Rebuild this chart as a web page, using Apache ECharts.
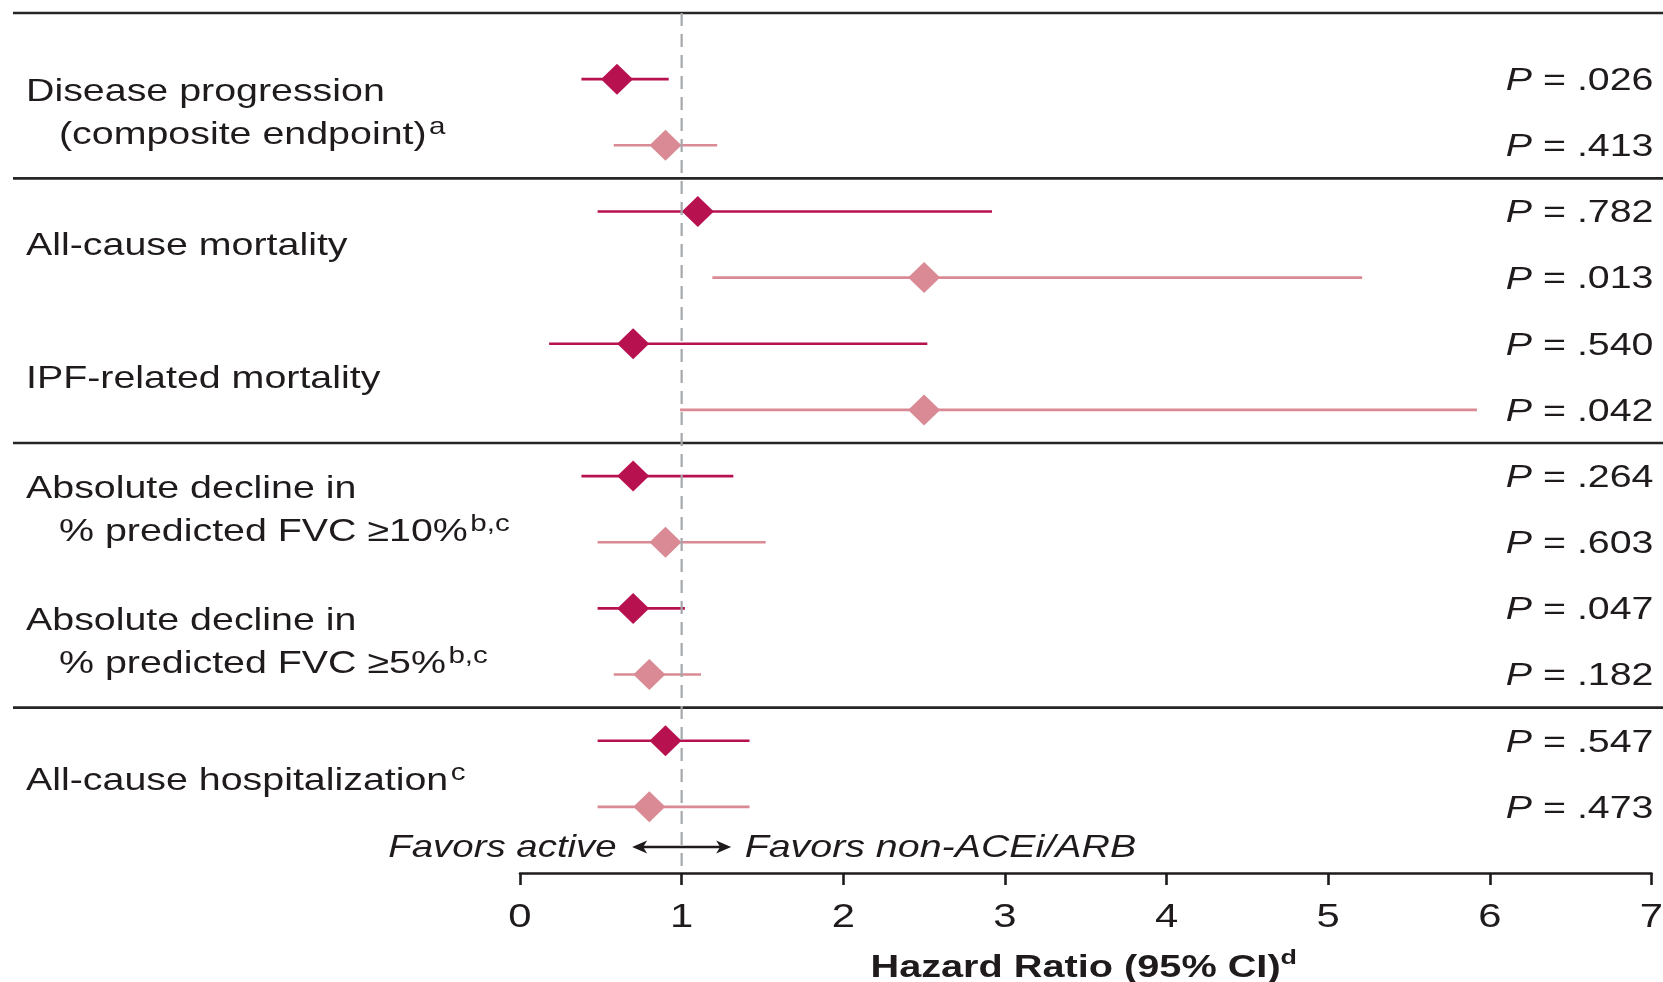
<!DOCTYPE html>
<html>
<head>
<meta charset="utf-8">
<style>
  html, body { margin: 0; padding: 0; background: #ffffff; }
  #chart { width: 1663px; height: 982px; }
</style>
<script src="https://cdn.jsdelivr.net/npm/echarts@6/dist/echarts.min.js"></script>
</head>
<body>
<div id="chart"></div>
<script>
// Outcome labels; each outcome spans two rows (first arm, second arm)
const outcomeLines = [
  ['Disease progression', '(composite endpoint){sup|a}'],
  ['All-cause mortality'],
  ['IPF-related mortality'],
  ['Absolute decline in', '% predicted FVC \u226510%{sup|b,c}'],
  ['Absolute decline in', '% predicted FVC \u22655%{sup|b,c}'],
  ['All-cause hospitalization{sup|c}']
];
// vertical centre of each outcome label, in row units
const outcomeRows = [0.5, 2.5, 4.5, 6.5, 8.5, 10.58];

// First arm (dark): hazard ratio, 95% CI, P value
const hrA = [0.60, 1.10, 0.70, 0.70, 0.70, 0.90];
const loA = [0.38, 0.48, 0.18, 0.38, 0.48, 0.48];
const hiA = [0.92, 2.92, 2.52, 1.32, 1.02, 1.42];
const pA  = ['.026', '.782', '.540', '.264', '.047', '.547'];

// Second arm (light): hazard ratio, 95% CI, P value
const hrB = [0.90, 2.50, 2.50, 0.90, 0.80, 0.80];
const loB = [0.58, 1.19, 0.99, 0.48, 0.58, 0.48];
const hiB = [1.22, 5.21, 5.92, 1.52, 1.12, 1.42];
const pB  = ['.413', '.013', '.042', '.603', '.182', '.473'];

// Hazard ratio axis
const xTicks = [0, 1, 2, 3, 4, 5, 6, 7];
const tickLabels = ['0', '1', '2', '3', '4', '5', '6', '7'];
const refValue = 1;

// Horizontal rules between outcome groups (row units, -1 = top rule)
const dividerRows = [-1, 1.5, 5.5, 9.5];

const favorsLeft = 'Favors active';
const favorsRight = 'Favors non-ACEi/ARB';
const axisTitle = 'Hazard Ratio (95% CI){sup|d}';

// ---- styling ----
const INK = '#1f1b1c';
const DARK = '#b8114f';
const LIGHT = '#da8a94';
const FONT = '"Liberation Sans", Arial, Helvetica, sans-serif';
const SX = 1.23;           // horizontal stretch of the lettering
const ROW_FAVORS = 11.56;  // row position of the "Favors" annotation

// one entry per plotted row
const rows = [];
for (let i = 0; i < hrA.length; i++) {
  rows.push({ row: 2 * i, hr: hrA[i], lo: loA[i], hi: hiA[i], p: pA[i], arm: 0 });
  rows.push({ row: 2 * i + 1, hr: hrB[i], lo: loB[i], hi: hiB[i], p: pB[i], arm: 1 });
}

const supRich = {
  sup: { font: '24px ' + FONT, fill: INK, lineHeight: 14, verticalAlign: 'top', padding: [0, 0, 0, 2] }
};

const chart = echarts.init(document.getElementById('chart'), null, { renderer: 'canvas' });

const yAxisCommon = { type: 'value', min: -1, max: 12, inverse: true, show: false };

chart.setOption({
  animation: false,
  backgroundColor: '#ffffff',
  grid: [
    { left: 520, right: 11.5, top: 13, bottom: 109 },
    { left: 13, right: 0, top: 13, bottom: 109 }
  ],
  xAxis: [
    {
      gridIndex: 0, type: 'value', min: 0, max: 7, interval: 1,
      axisLine: { show: true, onZero: false, lineStyle: { color: INK, width: 2.6 } },
      axisTick: { show: true, length: 12, lineStyle: { color: INK, width: 2.6 } },
      axisLabel: { show: false },
      splitLine: { show: false }
    },
    { gridIndex: 1, type: 'value', min: 0, max: 1, show: false }
  ],
  yAxis: [
    Object.assign({ gridIndex: 0 }, yAxisCommon),
    Object.assign({ gridIndex: 1 }, yAxisCommon)
  ],
  series: [
    {
      // group rules spanning the full width
      name: 'dividers', type: 'custom', xAxisIndex: 1, yAxisIndex: 1, z: 1, silent: true,
      data: dividerRows.map(r => [0, r]),
      renderItem: function (params, api) {
        const a = api.coord([0, api.value(1)]);
        const b = api.coord([1, api.value(1)]);
        return {
          type: 'line',
          shape: { x1: a[0], y1: a[1], x2: b[0], y2: b[1] },
          style: { stroke: '#262626', lineWidth: 2.6 }
        };
      }
    },
    {
      // outcome names on the left
      name: 'outcomes', type: 'custom', xAxisIndex: 1, yAxisIndex: 1, z: 6, silent: true,
      data: outcomeRows.map((r, i) => [0, r, i]),
      renderItem: function (params, api) {
        const p = api.coord([0, api.value(1)]);
        const lines = outcomeLines[api.value(2)];
        const children = lines.map(function (txt, k) {
          const dy = lines.length === 1 ? 2 : (k === 0 ? -19.8 : 22.8);
          return {
            type: 'text',
            x: p[0] + (k === 0 ? 13 : 46),
            y: p[1] + dy,
            scaleX: SX,
            style: {
              text: txt, fill: INK, font: '32px ' + FONT,
              align: 'left', verticalAlign: 'middle', lineHeight: 40,
              rich: supRich
            }
          };
        });
        return { type: 'group', children: children };
      }
    },
    {
      // confidence interval whiskers
      name: 'ci', type: 'custom', xAxisIndex: 0, yAxisIndex: 0, z: 2, silent: true,
      data: rows.map(r => [r.lo, r.row, r.hi, r.arm]),
      renderItem: function (params, api) {
        const a = api.coord([api.value(0), api.value(1)]);
        const b = api.coord([api.value(2), api.value(1)]);
        return {
          type: 'line',
          shape: { x1: a[0], y1: a[1], x2: b[0], y2: b[1] },
          style: { stroke: api.value(3) === 0 ? DARK : LIGHT, lineWidth: 2.6 }
        };
      }
    },
    {
      name: 'first arm', type: 'scatter', xAxisIndex: 0, yAxisIndex: 0, z: 3, silent: true,
      symbol: 'diamond', symbolSize: [32, 31],
      itemStyle: { color: DARK, opacity: 1 },
      data: rows.filter(r => r.arm === 0).map(r => [r.hr, r.row])
    },
    {
      name: 'second arm', type: 'scatter', xAxisIndex: 0, yAxisIndex: 0, z: 3, silent: true,
      symbol: 'diamond', symbolSize: [32, 31],
      itemStyle: { color: LIGHT, opacity: 1 },
      data: rows.filter(r => r.arm === 1).map(r => [r.hr, r.row])
    },
    {
      // dashed line of no effect
      name: 'reference', type: 'custom', xAxisIndex: 0, yAxisIndex: 0, z: 4, silent: true,
      data: [[refValue, -1, 12]],
      renderItem: function (params, api) {
        const a = api.coord([api.value(0), api.value(1)]);
        const b = api.coord([api.value(0), api.value(2)]);
        return {
          type: 'line',
          shape: { x1: a[0], y1: a[1], x2: b[0], y2: b[1] },
          style: { stroke: '#a5a8ab', lineWidth: 2.2, lineDash: [13, 8] }
        };
      }
    },
    {
      // P values at the right margin
      name: 'pvalues', type: 'custom', xAxisIndex: 0, yAxisIndex: 0, z: 6, silent: true,
      data: rows.map((r, i) => [7, r.row, i]),
      renderItem: function (params, api) {
        const p = api.coord([api.value(0), api.value(1)]);
        return {
          type: 'text',
          x: p[0] + 2, y: p[1] + 2,
          scaleX: SX,
          style: {
            text: '{i|P} = ' + rows[api.value(2)].p,
            fill: INK, font: '32px ' + FONT,
            align: 'right', verticalAlign: 'middle',
            rich: { i: { font: 'italic 32px ' + FONT, fill: INK } }
          }
        };
      }
    },
    {
      // tick labels of the hazard ratio axis
      name: 'ticks', type: 'custom', xAxisIndex: 0, yAxisIndex: 0, z: 6, silent: true,
      data: xTicks.map((v, i) => [v, 12, i]),
      renderItem: function (params, api) {
        const p = api.coord([api.value(0), api.value(1)]);
        return {
          type: 'text',
          x: p[0], y: p[1] + 45,
          scaleX: SX,
          style: {
            text: tickLabels[api.value(2)], fill: INK, font: '34px ' + FONT,
            align: 'center', verticalAlign: 'middle'
          }
        };
      }
    },
    {
      // direction arrow, its captions and the axis title
      name: 'notes', type: 'custom', xAxisIndex: 0, yAxisIndex: 0, z: 6, silent: true,
      data: [[refValue, ROW_FAVORS]],
      renderItem: function (params, api) {
        const c = api.coord([api.value(0), api.value(1)]);
        const axisY = api.coord([0, 12])[1];
        const mid = api.coord([3.5, 12])[0];
        const ty = c[1] + 4;
        const ay = c[1] + 3;
        const l = c[0] - 49.5, r = c[0] + 49.5;
        return {
          type: 'group',
          children: [
            {
              type: 'line',
              shape: { x1: l + 8, y1: ay, x2: r - 8, y2: ay },
              style: { stroke: INK, lineWidth: 2.5 }
            },
            {
              type: 'polygon',
              shape: { points: [[l, ay], [l + 15, ay - 6.5], [l + 11, ay], [l + 15, ay + 6.5]] },
              style: { fill: INK }
            },
            {
              type: 'polygon',
              shape: { points: [[r, ay], [r - 15, ay - 6.5], [r - 11, ay], [r - 15, ay + 6.5]] },
              style: { fill: INK }
            },
            {
              type: 'text', x: c[0] - 65, y: ty, scaleX: 1.2,
              style: {
                text: favorsLeft, fill: INK, font: 'italic 32px ' + FONT,
                align: 'right', verticalAlign: 'middle'
              }
            },
            {
              type: 'text', x: c[0] + 63, y: ty, scaleX: SX,
              style: {
                text: favorsRight, fill: INK, font: 'italic 32px ' + FONT,
                align: 'left', verticalAlign: 'middle'
              }
            },
            {
              type: 'text', x: mid - 2, y: axisY + 95, scaleX: 1.28,
              style: {
                text: axisTitle, fill: INK, font: 'bold 31px ' + FONT,
                align: 'center', verticalAlign: 'middle', lineHeight: 40,
                rich: { sup: { font: 'bold 21px ' + FONT, fill: INK, lineHeight: 14, verticalAlign: 'top' } }
              }
            }
          ]
        };
      }
    }
  ]
});
</script>
</body>
</html>
